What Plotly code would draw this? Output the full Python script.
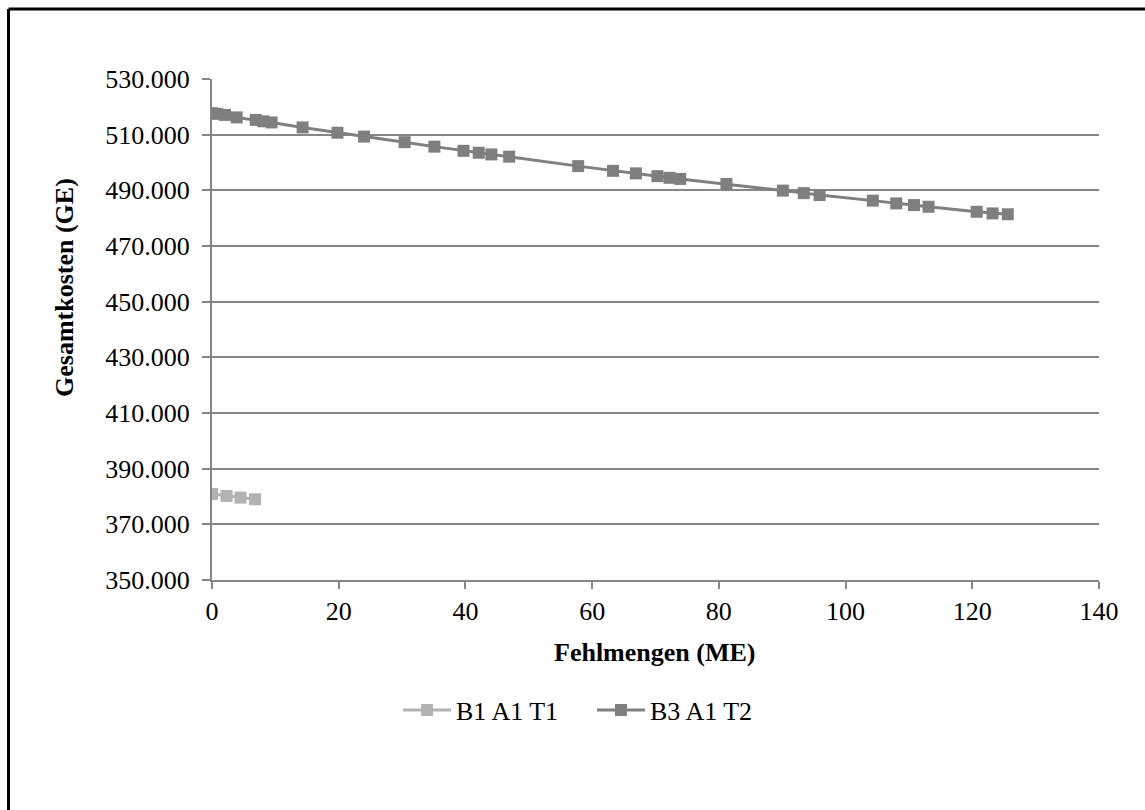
import plotly.graph_objects as go

# Data
b1_x = [0, 2.3, 4.5, 6.8]
b1_y = [380900, 380200, 379600, 379000]

b3_x = [0, 0.8, 2.05, 3.9, 6.9, 8.1, 9.4, 14.3, 19.8, 24.0, 30.4, 35.1, 39.7, 42.1,
        44.1, 46.9, 57.8, 63.3, 66.9, 70.3, 72.2, 73.9, 81.2, 90.1, 93.4, 95.9,
        104.3, 108.0, 110.8, 113.1, 120.7, 123.2, 125.6]
b3_y = [517700, 517500, 517100, 516200, 515300, 514800, 514400, 512600, 510700,
        509300, 507300, 505700, 504200, 503500, 502900, 502100, 498700, 497000,
        496100, 495100, 494500, 494100, 492300, 489900, 489000, 488300, 486300,
        485300, 484700, 484100, 482300, 481700, 481400]

series_names = ["B1 A1 T1", "B3 A1 T2"]
x_title = "Fehlmengen (ME)"
y_title = "Gesamtkosten (GE)"

FONT = "Liberation Serif, Times New Roman, serif"
W, H = 1145, 810
PL, PR, PT, PB = 212, 1099, 79, 580
PW, PH = PR - PL, PB - PT

fig = go.Figure()
fig.add_trace(go.Scatter(
    x=b1_x, y=b1_y, name=series_names[0], mode="lines+markers",
    line=dict(color="#b2b2b2", width=3),
    marker=dict(symbol="square", size=12, color="#b2b2b2"),
))
fig.add_trace(go.Scatter(
    x=b3_x, y=b3_y, name=series_names[1], mode="lines+markers",
    line=dict(color="#7f7f7f", width=3),
    marker=dict(symbol="square", size=12, color="#7f7f7f"),
))

fig.update_layout(
    width=W, height=H,
    margin=dict(l=PL, r=W - PR, t=PT, b=H - PB),
    paper_bgcolor="white", plot_bgcolor="white",
    font=dict(family=FONT, size=26, color="black"),
    separators=",.",
    showlegend=True,
    legend=dict(orientation="h", x=(398 - PL) / PW, xanchor="left",
                y=(PB - 710) / PH, yanchor="middle", font=dict(size=26),
                itemwidth=48, entrywidth=131, bgcolor="rgba(0,0,0,0)"),
    xaxis=dict(range=[0, 140], dtick=20, tick0=0, showgrid=False,
               showline=True, linecolor="#868686", linewidth=2,
               ticks="outside", ticklen=7, tickcolor="#868686", tickwidth=2,
               zeroline=False, tickfont=dict(size=26)),
    yaxis=dict(range=[350000, 530000], dtick=20000, tick0=350000,
               tickformat=",d", showgrid=True, gridcolor="#868686", gridwidth=2,
               showline=True, linecolor="#868686", linewidth=2,
               ticks="outside", ticklen=8, tickcolor="#868686", tickwidth=2,
               zeroline=False, tickfont=dict(size=26), ticklabelstandoff=7),
    annotations=[
        dict(text="<b>" + x_title + "</b>", xref="paper", yref="paper",
             x=(654 - PL) / PW, y=-(652 - PB) / PH,
             xanchor="center", yanchor="middle", showarrow=False,
             font=dict(size=26)),
        dict(text="<b>" + y_title + "</b>", xref="paper", yref="paper",
             x=-(PL - 64) / PW, y=(PB - 288) / PH,
             xanchor="center", yanchor="middle", showarrow=False,
             textangle=-90, font=dict(size=26)),
    ],
    shapes=[
        dict(type="line", xref="paper", yref="paper",
             x0=-(PL - 8.5) / PW, x1=(1160 - PL) / PW,
             y0=(PB - 9) / PH, y1=(PB - 9) / PH,
             line=dict(color="black", width=3)),
        dict(type="line", xref="paper", yref="paper",
             x0=-(PL - 8.5) / PW, x1=-(PL - 8.5) / PW,
             y0=(PB - 9) / PH, y1=-(830 - PB) / PH,
             line=dict(color="black", width=3)),
    ],
)

fig.write_html("out.html")
